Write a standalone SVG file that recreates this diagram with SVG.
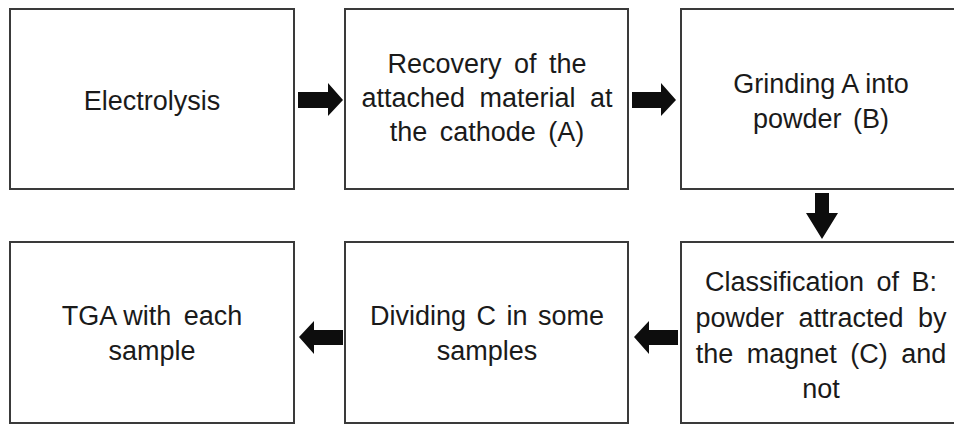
<svg xmlns="http://www.w3.org/2000/svg" width="954" height="426" viewBox="0 0 954 426">
  <style>
    .box { fill: #ffffff; stroke: #3a3a3a; stroke-width: 2; }
    .lbl { font-family: "Liberation Sans", Arial, sans-serif; font-size: 27px; fill: #1a1a1a; text-anchor: middle; }
    .arrow { fill: #0d0d0d; }
  </style>
  <rect x="0" y="0" width="954" height="426" fill="#ffffff"/>

  <g id="electrolysis">
    <rect class="box" x="10" y="9" width="284" height="180"/>
    <text class="lbl" x="152" y="110">Electrolysis</text>
  </g>

  <g id="recovery">
    <rect class="box" x="345" y="9" width="283" height="180"/>
    <text class="lbl" x="487" y="73" word-spacing="5">Recovery of the</text>
    <text class="lbl" x="487" y="107" word-spacing="7">attached material at</text>
    <text class="lbl" x="487" y="141" word-spacing="5">the cathode (A)</text>
  </g>

  <g id="grinding">
    <rect class="box" x="681" y="9" width="283" height="180"/>
    <text class="lbl" x="821" y="93">Grinding A into</text>
    <text class="lbl" x="821" y="128" word-spacing="4">powder (B)</text>
  </g>

  <g id="classification">
    <rect class="box" x="681" y="242" width="283" height="181"/>
    <text class="lbl" x="821" y="291" word-spacing="5">Classification of B:</text>
    <text class="lbl" x="821" y="327" word-spacing="7">powder attracted by</text>
    <text class="lbl" x="821" y="363" word-spacing="6">the magnet (C) and</text>
    <text class="lbl" x="821" y="398">not</text>
  </g>

  <g id="dividing">
    <rect class="box" x="345" y="242" width="283" height="181"/>
    <text class="lbl" x="487" y="325" word-spacing="3">Dividing C in some</text>
    <text class="lbl" x="487" y="360">samples</text>
  </g>

  <g id="tga">
    <rect class="box" x="10" y="242" width="284" height="181"/>
    <text class="lbl" x="152" y="325"><tspan>TGA with </tspan><tspan dx="5">each</tspan></text>
    <text class="lbl" x="152" y="360">sample</text>
  </g>

  <g id="connectors">
    <!-- right arrows, top row -->
    <polygon class="arrow" points="298,92 328,92 328,83 343,100 328,116 328,108 298,108"/>
    <polygon class="arrow" points="632,92 661,92 661,83 676,100 661,116 661,108 632,108"/>
    <!-- down arrow between right-hand boxes -->
    <polygon class="arrow" points="815,193 829,193 829,213 838,213 822,239 806,213 815,213"/>
    <!-- left arrows, bottom row -->
    <polygon class="arrow" points="678,330 649,330 649,321 634,337 649,354 649,345 678,345"/>
    <polygon class="arrow" points="343,330 314,330 314,321 299,337 314,354 314,345 343,345"/>
  </g>
</svg>
